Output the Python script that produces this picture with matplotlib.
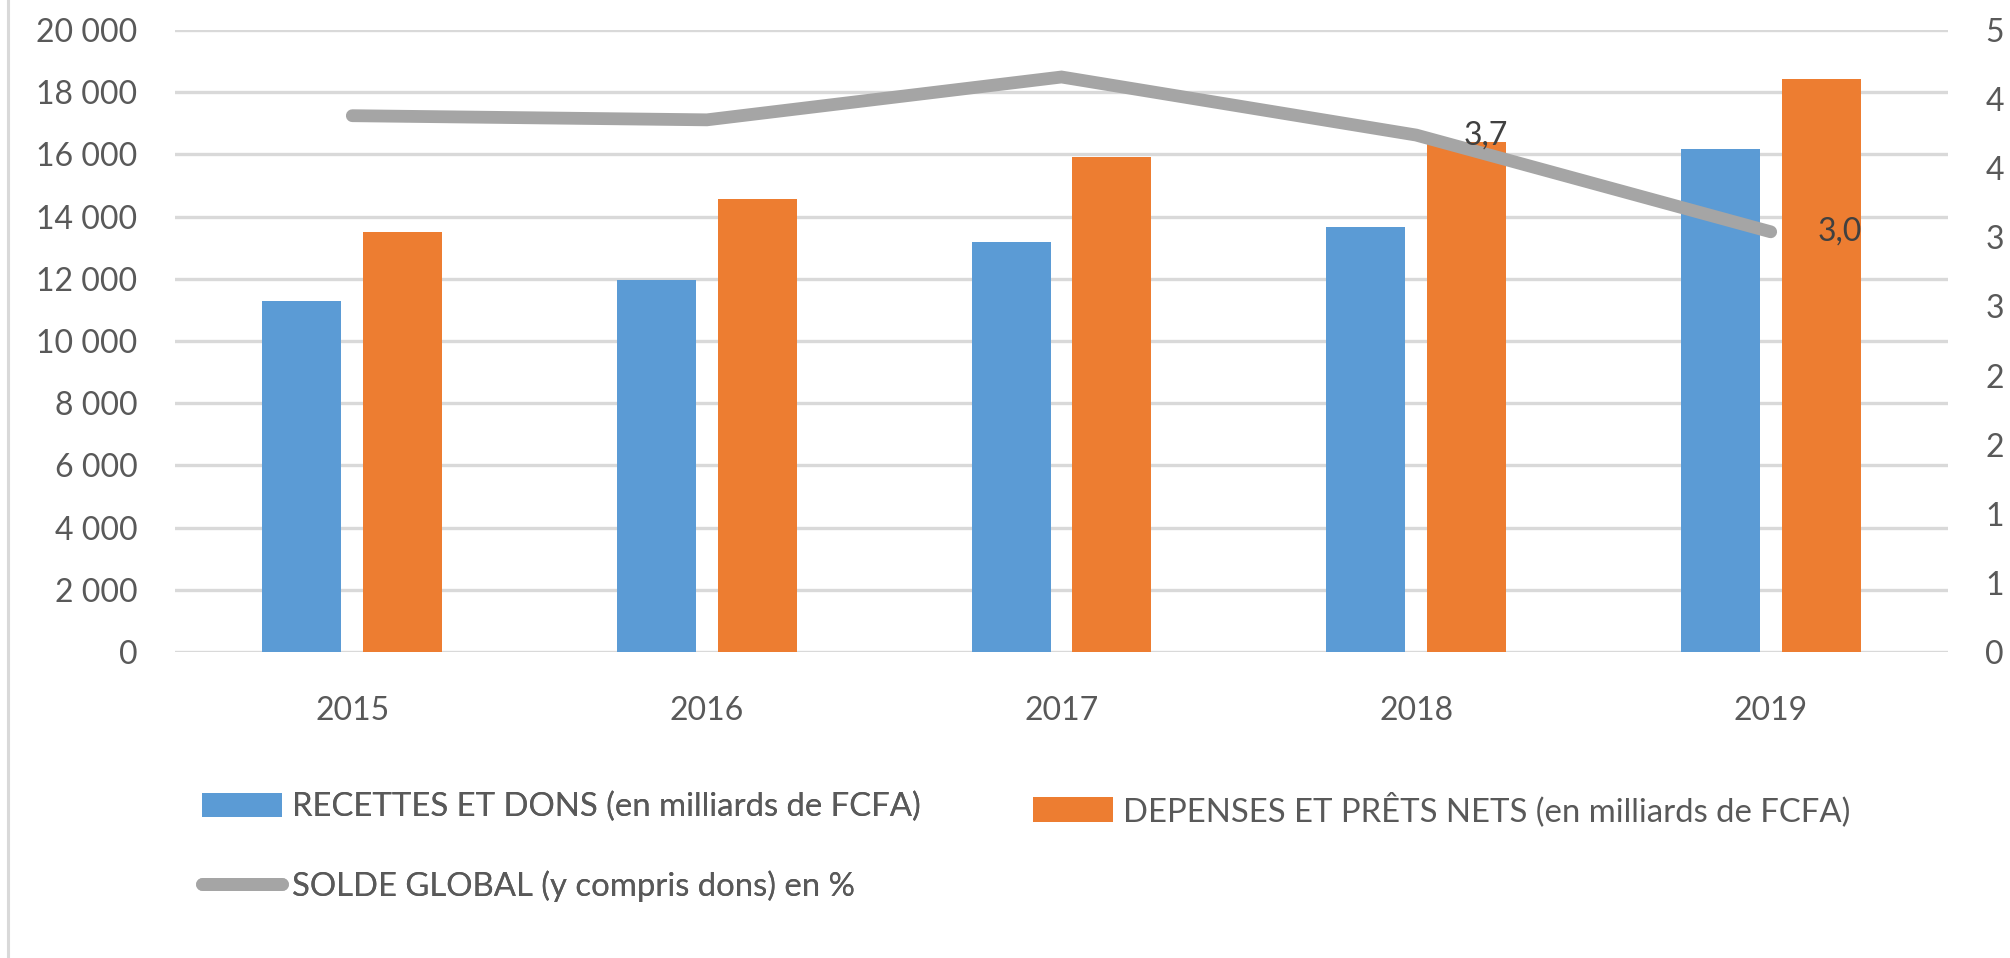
#!/usr/bin/env python3
"""Recettes / dépenses et solde global, 2015-2019."""

import matplotlib

matplotlib.use("Agg")
import matplotlib.pyplot as plt
import numpy as np
from matplotlib.lines import Line2D

years = ["2015", "2016", "2017", "2018", "2019"]
recettes = [11300, 11970, 13170, 13650, 16170]
depenses = [13500, 14550, 15930, 16400, 18440]
solde = [3.88, 3.85, 4.16, 3.74, 3.04]
labelled_years = ["2018", "2019"]

left_ticks = [0, 2000, 4000, 6000, 8000, 10000, 12000, 14000, 16000, 18000, 20000]
left_tick_labels = ["0", "2 000", "4 000", "6 000", "8 000", "10 000",
                    "12 000", "14 000", "16 000", "18 000", "20 000"]
# secondary axis runs 0-4.5 by 0.5, shown without decimals (Excel rounds half up)
right_ticks = [0, 0.5, 1.0, 1.5, 2.0, 2.5, 3.0, 3.5, 4.0, 4.5]
right_tick_labels = ["0", "1", "1", "2", "2", "3", "3", "4", "4", "5"]

label_recettes = "RECETTES ET DONS (en milliards de FCFA)"
label_depenses = "DEPENSES ET PRÊTS NETS (en milliards de FCFA)"
label_solde = "SOLDE GLOBAL (y compris dons) en %"

BLUE = "#5B9BD5"
ORANGE = "#ED7D31"
GRAY = "#A5A5A5"
GRID = "#D9D9D9"
TEXT = "#595959"

plt.rcParams["font.family"] = ["Lato", "DejaVu Sans"]

W, H = 2010, 958
fig = plt.figure(figsize=(W / 100, H / 100), dpi=100)
ax = fig.add_axes([175 / W, 1 - 652 / H, (1948 - 175) / W, (652 - 30) / H])

x = np.arange(len(years))
width = 0.223
offset = 0.142
bars_r = ax.bar(x - offset, recettes, width, color=BLUE, zorder=3, label=label_recettes)
bars_d = ax.bar(x + offset, depenses, width, color=ORANGE, zorder=3, label=label_depenses)

ax.set_xlim(-0.5, len(years) - 0.5)
ax.set_ylim(0, 20000)
ax.set_yticks(left_ticks)
ax.set_yticklabels(left_tick_labels)
ax.set_xticks(x)
ax.set_xticklabels(years)
ax.grid(axis="y", color=GRID, linewidth=2.4, zorder=0)
ax.set_axisbelow(True)
for s in ax.spines.values():
    s.set_visible(False)
ax.tick_params(axis="y", length=0, pad=27, labelsize=23, labelcolor=TEXT)
ax.tick_params(axis="x", length=0, pad=32, labelsize=23, labelcolor=TEXT)

ax2 = ax.twinx()
(line,) = ax2.plot(x, solde, color=GRAY, linewidth=9.2, solid_capstyle="round",
                   solid_joinstyle="miter", zorder=4, label=label_solde)
ax2.set_ylim(0, 4.5)
ax2.set_yticks(right_ticks)
ax2.set_yticklabels(right_tick_labels)
for s in ax2.spines.values():
    s.set_visible(False)
ax2.tick_params(axis="y", length=0, pad=27, labelsize=23, labelcolor=TEXT)

for xi, year, v in zip(x, years, solde):
    if year in labelled_years:
        ax2.annotate(f"{v:.1f}".replace(".", ","), (xi, v), xytext=(34, 0),
                     textcoords="offset points", ha="left", va="center",
                     fontsize=23, color="#404040", zorder=5)

common = dict(frameon=False, fontsize=23.7, labelcolor=TEXT, borderpad=0,
              borderaxespad=0, handlelength=2.43, handleheight=0.76,
              handletextpad=0.31, labelspacing=1.45)
leg_a = fig.legend([bars_r, line], [label_recettes, label_solde], loc="upper left",
                   bbox_to_anchor=(202 / W, 1 - 792 / H), **common)
fig.add_artist(leg_a)
fig.legend([bars_d], [label_depenses], loc="upper left",
           bbox_to_anchor=(1033 / W, 1 - 792 / H), **common)

fig.add_artist(Line2D([8 / W, 8 / W], [0, 1], transform=fig.transFigure,
                      color=GRID, linewidth=2.2))

fig.savefig("out.png", dpi=100)
plt.close(fig)
